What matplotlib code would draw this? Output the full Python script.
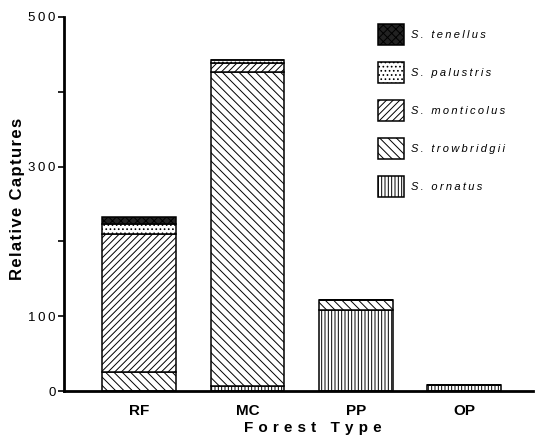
import matplotlib
matplotlib.use("Agg")
import matplotlib.pyplot as plt

forest = ["RF", "MC", "PP", "OP"]
ornatus = [0, 7, 108, 8]
trowbridgii = [25, 420, 13, 0]
monticolus = [185, 12, 0, 0]
palustris = [13, 4, 0, 0]
tenellus = [10, 0, 0, 0]

species = ["S. ornatus", "S. trowbridgii", "S. monticolus", "S. palustris", "S. tenellus"]
hatches = ["|||||", "\\\\\\\\", "/////", "....", "xxxx"]
faces = ["white", "white", "white", "white", "#222222"]

plt.rcParams["font.family"] = ["Liberation Sans", "DejaVu Sans"]
plt.rcParams["hatch.linewidth"] = 0.7
plt.rcParams["hatch.color"] = "black"


def spaced(s, gap="\u2009"):
    return gap.join(s)


fig = plt.figure(figsize=(5.4, 4.46), dpi=100)
ax = fig.add_axes([0.1185, 0.1233, 0.869, 0.8386])

x = range(len(forest))
bottom = [0] * len(forest)
handles = []
for name, vals, h, fc in zip(species, [ornatus, trowbridgii, monticolus, palustris, tenellus], hatches, faces):
    bars = ax.bar(x, vals, width=0.68, bottom=bottom, color=fc, hatch=h,
                  edgecolor="black", linewidth=1.1)
    handles.append(bars)
    bottom = [b + v for b, v in zip(bottom, vals)]

ax.set_xlim(-0.692, 3.637)
ax.set_ylim(0, 500)
ax.set_yticks([0, 100, 200, 300, 400, 500])
ax.set_yticklabels([spaced("0"), spaced("100"), "", spaced("300"), "", spaced("500")])
ax.set_xticks(list(x))
ax.set_xticklabels(forest, fontsize=11, fontweight="bold")
ax.tick_params(axis="x", length=0, pad=9)
ax.tick_params(axis="y", length=4, width=1.2, pad=2, labelsize=9.5)

for side in ["top", "right"]:
    ax.spines[side].set_visible(False)
ax.spines["left"].set_linewidth(2)
ax.spines["bottom"].set_linewidth(2)

ax.set_ylabel(spaced("Relative Captures", "\u200a"), fontsize=12, fontweight="bold")
ax.yaxis.set_label_coords(-0.083, 0.513)
ax.set_xlabel(spaced("Forest Type", "\u2004"), fontsize=11, fontweight="bold")
ax.xaxis.set_label_coords(0.531, -0.08)

leg = ax.legend(handles[::-1], [spaced(s) for s in species[::-1]],
                loc="upper left", bbox_to_anchor=(378 / 540, 1 - 24 / 446),
                bbox_transform=fig.transFigure, frameon=False, borderpad=0,
                borderaxespad=0, handlelength=2.3, handleheight=2.5,
                labelspacing=1.55, handletextpad=0.7,
                prop={"size": 8, "style": "italic"})

fig.savefig("out.png", dpi=100)
